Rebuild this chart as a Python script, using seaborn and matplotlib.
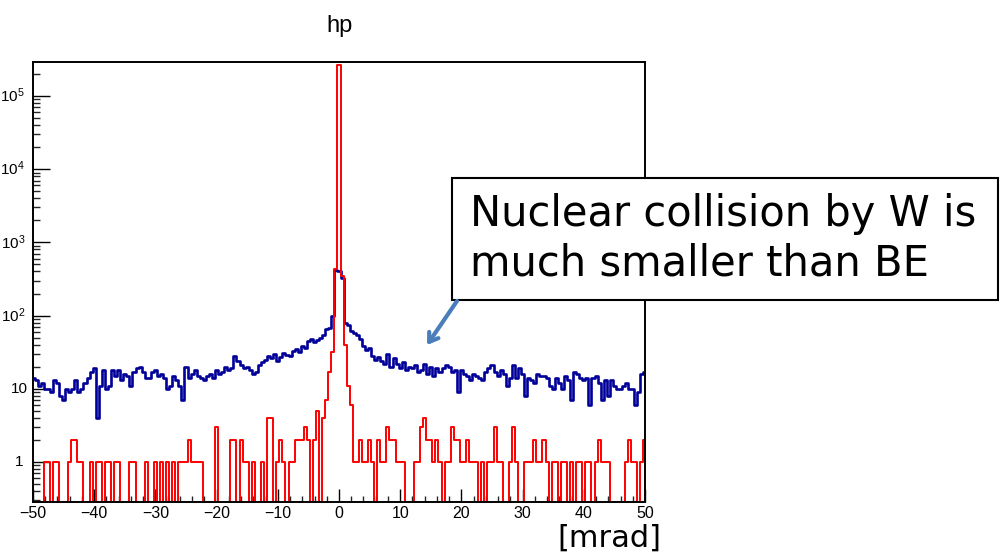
import numpy as np
import matplotlib
matplotlib.use("Agg")
import matplotlib.pyplot as plt
import seaborn as sns
from matplotlib.ticker import MultipleLocator, LogLocator, NullFormatter, FixedLocator
from matplotlib.patches import Rectangle, FancyArrowPatch

# ---------------- data ----------------
# bin centres [mrad], 0.5 mrad bins from -50 to 50
angle = np.arange(-50.0, 50.001, 0.5)

# blue histogram (W target)
blue_counts = [
    14, 13, 11, 12, 10, 10, 9, 13, 12, 8,
    7, 10, 9, 10, 13, 9, 10, 12, 14, 17,
    19, 4, 11, 18, 10, 11, 18, 15, 18, 13,
    16, 15, 11, 17, 19, 20, 17, 14, 14, 17,
    18, 15, 16, 14, 10, 11, 15, 13, 11, 7,
    20, 14, 16, 18, 15, 14, 13, 15, 16, 14,
    18, 16, 17, 20, 18, 19, 28, 24, 21, 19,
    20, 18, 16, 17, 21, 23, 25, 28, 26, 30,
    24, 27, 31, 29, 28, 33, 35, 32, 38, 36,
    45, 48, 44, 46, 50, 55, 65, 68, 100, 420,
    410, 330, 78, 75, 62, 58, 55, 48, 38, 34,
    36, 28, 25, 27, 24, 22, 30, 20, 26, 22,
    19, 23, 18, 20, 19, 21, 17, 18, 22, 16,
    20, 15, 19, 17, 19, 21, 20, 17, 18, 9,
    18, 16, 15, 13, 16, 15, 14, 13, 17, 19,
    21, 17, 15, 18, 16, 11, 14, 21, 14, 19,
    16, 8, 14, 13, 12, 16, 15, 15, 14, 11,
    10, 14, 12, 10, 15, 13, 7, 17, 16, 14,
    13, 14, 6, 14, 15, 12, 7, 13, 8, 13,
    11, 10, 10, 11, 12, 10, 10, 6, 9, 16,
    17,
]

# red histogram (BE target)
red_counts = [
    0, 0, 0, 0, 1, 1, 0, 1, 1, 0,
    0, 0, 1, 2, 2, 1, 1, 0, 0, 1,
    0, 1, 1, 0, 1, 1, 0, 1, 1, 0,
    0, 0, 1, 1, 0, 0, 0, 1, 0, 0,
    1, 0, 1, 0, 1, 0, 1, 0, 1, 1,
    1, 2, 1, 1, 1, 1, 0, 0, 0, 0,
    3, 0, 0, 0, 0, 2, 2, 0, 2, 1,
    1, 0, 1, 0, 0, 1, 0, 4, 4, 0,
    1, 2, 1, 0, 1, 1, 2, 2, 2, 3,
    2, 0, 2, 5, 0, 4, 7, 17, 32, 430,
    263000, 350, 40, 11, 6, 1, 1, 2, 1, 1,
    2, 1, 0, 2, 1, 1, 3, 2, 2, 1,
    1, 1, 0, 0, 0, 1, 1, 3, 4, 2,
    2, 1, 2, 1, 0, 1, 1, 3, 2, 2,
    1, 1, 2, 1, 1, 1, 0, 1, 0, 1,
    1, 3, 1, 1, 0, 0, 1, 3, 1, 0,
    0, 1, 1, 1, 2, 1, 1, 2, 1, 0,
    1, 1, 0, 1, 1, 0, 1, 0, 1, 1,
    0, 1, 1, 0, 1, 2, 1, 1, 1, 0,
    0, 0, 0, 0, 1, 2, 1, 1, 0, 1,
    2,
]

y_ticks = [1, 10, 100, 1000, 10000, 100000]
y_tick_labels = ["1", "10", "$10^{2}$", "$10^{3}$", "$10^{4}$", "$10^{5}$"]
x_ticks = [-50, -40, -30, -20, -10, 0, 10, 20, 30, 40, 50]

title = "hp"
note_lines = ["Nuclear collision by W is", "much smaller than BE"]
x_unit = "[mrad]"

assert len(blue_counts) == len(angle) == len(red_counts)

# ---------------- style ----------------
sns.set_theme(style="white")
plt.rcParams["font.family"] = ["Liberation Sans", "DejaVu Sans"]
plt.rcParams["mathtext.fontset"] = "custom"
plt.rcParams["mathtext.rm"] = "Liberation Sans"
plt.rcParams["mathtext.it"] = "Liberation Sans:italic"
plt.rcParams["mathtext.bf"] = "Liberation Sans:bold"

W, H = 1006, 557
fig = plt.figure(figsize=(W / 100, H / 100), dpi=100)
fig.patch.set_facecolor("white")

ax_l, ax_r, ax_t, ax_b = 33, 645, 62, 502
ax = fig.add_axes([ax_l / W, 1 - ax_b / H, (ax_r - ax_l) / W, (ax_b - ax_t) / H])
ax.set_facecolor("white")

y_lo, y_hi = 0.284, 2.91e5
ax.set_yscale("log")
ax.set_xlim(-50, 50)
ax.set_ylim(y_lo, y_hi)

blue = np.array(blue_counts, dtype=float)
red = np.array(red_counts, dtype=float)
red_draw = np.where(red <= 0, y_lo, red)   # empty bins drawn on the frame bottom (ROOT style)

sns.lineplot(x=angle, y=blue, drawstyle="steps-mid", color="#000099",
             linewidth=1.9, estimator=None, sort=False, ax=ax)
sns.lineplot(x=angle, y=red_draw, drawstyle="steps-mid", color="#ff0000",
             linewidth=1.4, estimator=None, sort=False, ax=ax)
ax.set_xlabel("")
ax.set_ylabel("")

# spines
for s in ax.spines.values():
    s.set_visible(True)
    s.set_color("black")
    s.set_linewidth(1.4)

# x ticks
ax.xaxis.set_major_locator(FixedLocator(x_ticks))
ax.xaxis.set_minor_locator(MultipleLocator(2))
ax.tick_params(axis="x", which="major", direction="in", length=9.5, width=1.0,
               bottom=True, top=False, labelsize=11.5, pad=3, colors="black")
ax.tick_params(axis="x", which="minor", direction="in", length=4.5, width=1.0,
               bottom=True, top=False)

# y ticks
ax.yaxis.set_major_locator(FixedLocator(y_ticks))
ax.yaxis.set_minor_locator(LogLocator(base=10, subs=np.arange(2, 10), numticks=30))
ax.yaxis.set_major_formatter(NullFormatter())
ax.yaxis.set_minor_formatter(NullFormatter())
ax.tick_params(axis="y", which="major", direction="in", length=12, width=1.0,
               left=True, right=False, colors="black")
ax.tick_params(axis="y", which="minor", direction="in", length=5, width=1.0,
               left=True, right=False)

# y tick labels (kept fully inside the figure)
ytr = ax.get_yaxis_transform()
label_right_px = {"1": 23, "10": 28}
for val, lab in zip(y_ticks, y_tick_labels):
    px = label_right_px.get(lab, 25)
    ax.text((px - ax_l) / (ax_r - ax_l), val, lab, transform=ytr, ha="right",
            va="center", fontsize=11, color="black", clip_on=False)

# title
fig.text(339 / W, 1 - 26 / H, title, ha="center", va="center", fontsize=17,
         color="black")

# annotation box
bx0, by0, bx1, by1 = 452, 178, 998, 300
fig.add_artist(Rectangle((bx0 / W, 1 - by1 / H), (bx1 - bx0) / W, (by1 - by0) / H,
                         transform=fig.transFigure, facecolor="white",
                         edgecolor="black", linewidth=1.5, zorder=3))
fig.text(470 / W, 1 - 226 / H, note_lines[0], fontsize=30, family=["DejaVu Sans"],
         va="baseline", ha="left", color="black", zorder=4)
fig.text(470 / W, 1 - 276 / H, note_lines[1], fontsize=30, family=["DejaVu Sans"],
         va="baseline", ha="left", color="black", zorder=4)

# arrow
fig.add_artist(FancyArrowPatch((457 / W, 1 - 301 / H), (427 / W, 1 - 345 / H),
                               transform=fig.transFigure,
                               arrowstyle="->,head_length=6,head_width=4",
                               color="#4a7ebb", linewidth=3, zorder=4,
                               shrinkA=0, shrinkB=0))

# unit label
fig.text(557 / W, 1 - 547 / H, x_unit, fontsize=22, family=["DejaVu Sans"],
         va="baseline", ha="left", color="black")

fig.savefig("out.png", dpi=100, facecolor="white")
